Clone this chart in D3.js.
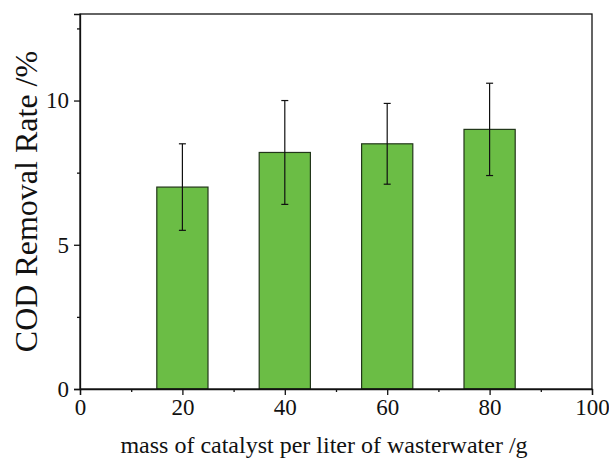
<!DOCTYPE html>
<html><head><meta charset="utf-8">
<script src="https://cdn.jsdelivr.net/npm/d3@7"></script>
<style>body{margin:0;background:#fff}svg{display:block}
.ax text{font-family:'Liberation Serif','Times New Roman',serif !important;font-size:23px !important;fill:#111}</style>
</head><body>
<script>
const categories = [20, 40, 60, 80];
const values = [7.0, 8.2, 8.5, 9.0];
const errUpper = [8.5, 10.0, 9.9, 10.6];
const errLower = [5.5, 6.4, 7.1, 7.4];
const xTicks = [0, 20, 40, 60, 80, 100];
const yTicks = [0, 5, 10];
const barWidthUnits = 10;

const W = 609, H = 463;
const m = {left: 80, right: 17, top: 14, bottom: 74};
const svg = d3.select("body").append("svg").attr("width", W).attr("height", H);
const x = d3.scaleLinear().domain([0, 100]).range([m.left, W - m.right]);
const y = d3.scaleLinear().domain([0, 13]).range([H - m.bottom, m.top]);
const font = "'Liberation Serif', 'Times New Roman', serif";

// bars
svg.append("g").selectAll("rect").data(categories).join("rect")
  .attr("x", d => x(d - barWidthUnits / 2))
  .attr("width", d => x(d + barWidthUnits / 2) - x(d - barWidthUnits / 2))
  .attr("y", (d, i) => y(values[i]))
  .attr("height", (d, i) => y(0) - y(values[i]))
  .attr("fill", "#6bbd45").attr("stroke", "#22361a").attr("stroke-width", 1.2);

// error bars
const eg = svg.append("g").attr("stroke", "#111").attr("stroke-width", 1.2);
categories.forEach((c, i) => {
  const cx = x(c);
  eg.append("line").attr("x1", cx).attr("x2", cx).attr("y1", y(errLower[i])).attr("y2", y(errUpper[i]));
  [errLower[i], errUpper[i]].forEach(v => {
    eg.append("line").attr("x1", cx - 3.5).attr("x2", cx + 3.5).attr("y1", y(v)).attr("y2", y(v));
  });
});

// frame
svg.append("rect").attr("x", x(0)).attr("y", y(13)).attr("width", x(100) - x(0)).attr("height", y(0) - y(13))
  .attr("fill", "none").attr("stroke", "#111").attr("stroke-width", 1.3);

// x axis
svg.append("g").attr("class", "ax").attr("transform", `translate(0,${y(0)})`)
  .call(d3.axisBottom(x).tickValues(xTicks).tickSize(6).tickPadding(4).tickFormat(d3.format("d")));
svg.append("g").attr("transform", `translate(0,${y(0)})`)
  .call(d3.axisBottom(x).tickValues([10, 30, 50, 70, 90]).tickSize(3).tickFormat(""))
  .call(g => g.select(".domain").remove());
// y axis
svg.append("g").attr("class", "ax").attr("transform", `translate(${x(0)},0)`)
  .call(d3.axisLeft(y).tickValues(yTicks).tickSize(6).tickPadding(5).tickFormat(d3.format("d")));
svg.append("g").attr("transform", `translate(${x(0)},0)`)
  .call(d3.axisLeft(y).tickValues([2.5, 7.5, 12.5]).tickSize(3).tickFormat(""))
  .call(g => g.select(".domain").remove());

svg.selectAll(".tick line, .domain").attr("stroke", "#111").attr("stroke-width", 1.3);

// labels
svg.append("text").attr("x", 324).attr("y", 453).attr("text-anchor", "middle")
  .attr("font-family", font).attr("font-size", 24).attr("fill", "#111")
  .text("mass of catalyst per liter of wasterwater /g");
svg.append("text").attr("transform", `translate(37,${(y(0) + y(13)) / 2}) rotate(-90)`)
  .attr("text-anchor", "middle").attr("font-family", font).attr("font-size", 32).attr("fill", "#111")
  .text("COD Removal Rate /%");
</script>
</body></html>
